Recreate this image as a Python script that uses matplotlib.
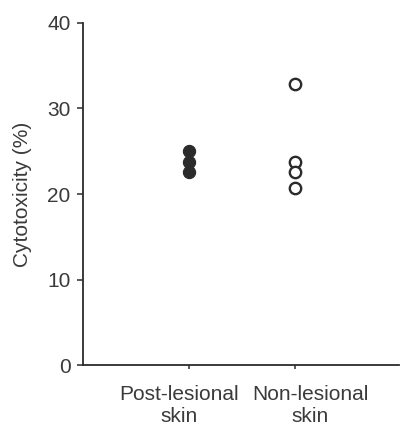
import matplotlib

matplotlib.use("Agg")
import matplotlib.pyplot as plt
import matplotlib.transforms as mtransforms

# values
groups = ["Post-lesional\nskin", "Non-lesional\nskin"]
post_lesional = [25.0, 23.8, 22.6]
non_lesional = [32.9, 23.7, 22.6, 20.7]
y_ticks = [0, 10, 20, 30, 40]

plt.rcParams["font.family"] = ["Liberation Sans", "DejaVu Sans"]
ink = "#2b2b2b"
text_col = "#3a3a3a"

fig = plt.figure(figsize=(4.0, 4.25), dpi=100)
ax = fig.add_axes([0.2075, 0.141, 0.79, 0.805])

ax.plot([1] * len(post_lesional), post_lesional, "o", ms=8.8,
        mfc=ink, mec=ink, mew=0.8, ls="none", clip_on=False)
ax.plot([2] * len(non_lesional), non_lesional, "o", ms=8.2,
        mfc="white", mec=ink, mew=1.7, ls="none", clip_on=False)

ax.set_xlim(0.01, 2.97)
ax.set_ylim(0, 40)
ax.set_yticks(y_ticks)
ax.set_xticks([1, 2])
ax.set_xticklabels(groups, fontsize=15, color=text_col, linespacing=1.25)
ax.tick_params(axis="y", labelsize=15, labelcolor=text_col, length=4,
               width=1.1, pad=5, color=ink)
ax.tick_params(axis="x", length=3, width=1.1, pad=11, color=ink)

# nudge the group labels like in the original figure
offsets = [-10, 15]
for lab, dx in zip(ax.get_xticklabels(), offsets):
    lab.set_transform(lab.get_transform()
                      + mtransforms.ScaledTranslation(dx / 100, 0, fig.dpi_scale_trans))

ax.set_ylabel("Cytotoxicity (%)", fontsize=15, color=text_col)
ax.yaxis.set_label_coords(-0.16, 0.5)

for side in ["top", "right"]:
    ax.spines[side].set_visible(False)
for side in ["left", "bottom"]:
    ax.spines[side].set_linewidth(1.3)
    ax.spines[side].set_color(ink)

fig.savefig("out.png", dpi=100)
